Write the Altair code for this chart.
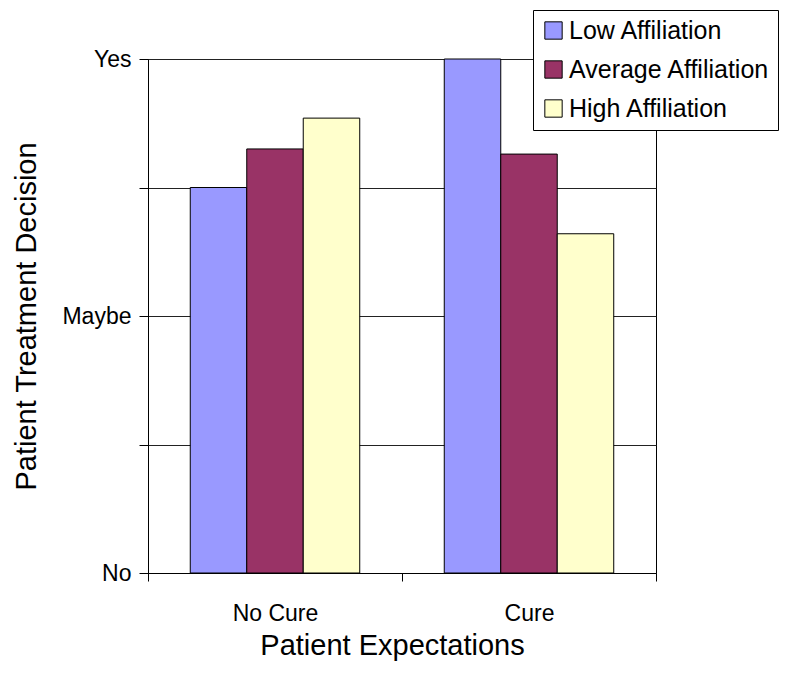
import altair as alt
import pandas as pd

categories = ["No Cure", "Cure"]
series = ["Low Affiliation", "Average Affiliation", "High Affiliation"]
low_vals = [1.50, 2.00]
avg_vals = [1.65, 1.63]
high_vals = [1.77, 1.32]
colors = ["#9999FF", "#993366", "#FFFFCC"]
y_ticks = [0, 0.5, 1, 1.5, 2]

rows = []
for s, vals in zip(series, [low_vals, avg_vals, high_vals]):
    for c, v in zip(categories, vals):
        rows.append({"expect": c, "affil": s, "value": v})
df = pd.DataFrame(rows)

FONT = "Liberation Sans"

chart = alt.Chart(df).mark_bar(stroke="black", strokeWidth=1).encode(
    x=alt.X("expect:N", sort=categories,
            scale=alt.Scale(paddingInner=0, paddingOuter=0),
            axis=alt.Axis(title="Patient Expectations", labelAngle=0, tickBand="extent",
                          tickSize=8, tickColor="black", domainColor="black",
                          labelFontSize=23, labelPadding=21, labelColor="black",
                          titleFontSize=29, titleFontWeight="normal", titlePadding=6,
                          titleX=244, titleAlign="center",
                          titleColor="black", labelFont=FONT, titleFont=FONT)),
    xOffset=alt.XOffset("affil:N", sort=series,
                        scale=alt.Scale(paddingInner=0, paddingOuter=0.748)),
    y=alt.Y("value:Q", scale=alt.Scale(domain=[0, 2], nice=False),
            axis=alt.Axis(title="Patient Treatment Decision", values=y_ticks,
                          labelExpr="datum.value == 0 ? 'No' : datum.value == 1 ? 'Maybe' : datum.value == 2 ? 'Yes' : ''",
                          grid=True, gridColor="#222222", gridWidth=1,
                          tickSize=9, tickColor="black", domainColor="black",
                          labelFontSize=23, labelPadding=8, labelColor="black",
                          titleFontSize=29, titleFontWeight="normal", titlePadding=20,
                          titleColor="black", labelFont=FONT, titleFont=FONT)),
    color=alt.Color("affil:N", sort=series,
                    scale=alt.Scale(domain=series, range=colors),
                    legend=alt.Legend(title=None, orient="none", legendX=385, legendY=-49,
                                      symbolType="square", symbolSize=300,
                                      symbolStrokeColor="black", symbolStrokeWidth=1,
                                      labelFontSize=25, labelFont=FONT, labelColor="black",
                                      rowPadding=13, padding=8, strokeColor="black",
                                      fillColor="white", labelLimit=300, labelOffset=3)),
).properties(
    width=508, height=514,
    autosize=alt.AutoSizeParams(type="none"),
    padding={"left": 140, "top": 51, "right": 136, "bottom": 95},
).configure_view(stroke="black", strokeWidth=1)

chart.save("out.html", embed_options={"renderer": "svg", "actions": False})
